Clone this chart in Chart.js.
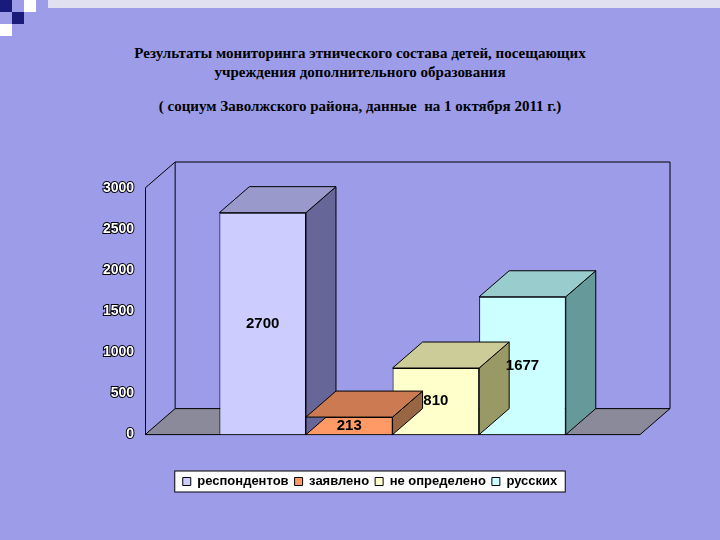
<!DOCTYPE html>
<html><head><meta charset="utf-8">
<script src="https://cdn.jsdelivr.net/npm/chart.js@4.4.0/dist/chart.umd.min.js"></script>
<style>
body{margin:0;width:720px;height:540px;background:#9c9ce9;position:relative;overflow:hidden;font-family:"Liberation Serif",serif}
.t{position:absolute;left:0;width:720px;text-align:center;font-weight:bold;font-size:15px;color:#000}
canvas{position:absolute;left:0;top:0}
.sq{position:absolute;width:12px;height:12px}
</style></head><body>
<div class="sq" style="left:0;top:0;background:#1a1a7a"></div>
<div class="sq" style="left:12px;top:12px;background:#1a1a7a"></div>
<div class="sq" style="left:24px;top:0;background:#fff"></div>
<div class="sq" style="left:0;top:24px;background:#fff"></div>
<div style="position:absolute;left:48px;top:0;width:672px;height:8px;background:#e0e0f0"></div>
<div class="t" style="top:44px;line-height:19px">Результаты мониторинга этнического состава детей, посещающих<br>учреждения дополнительного образования</div>
<div class="t" style="top:98px">( социум Заволжского района, данные &nbsp;на 1 октября 2011 г.)</div>
<canvas id="c" width="720" height="540"></canvas>
<script>
const categories=[""];
const seriesNames=["респондентов","заявлено","не определено","русских"];
const seriesValues=[2700,213,810,1677];
const seriesColors=["#ccccff","#ff9966","#ffffcc","#ccffff"];
const sideColors=["#666699","#996644","#999966","#669999"];
const topColors=["#9999cc","#cc7a52","#cccc99","#99cccc"];
const DX=30,DY=-26;
const threeD={id:"threeD",
 beforeDraw(ch){const L=ch.legend;if(!L||!L.legendHitBoxes.length)return;const h=L.legendHitBoxes;
  const x0=Math.min(...h.map(b=>b.left))-8,x1=Math.max(...h.map(b=>b.left+b.width))+8,y0=h[0].top-4,y1=h[0].top+h[0].height+4;
  const c=ch.ctx;c.save();c.fillStyle="#fff";c.strokeStyle="#000";c.fillRect(x0,y0,x1-x0,y1-y0);c.strokeRect(x0,y0,x1-x0,y1-y0);c.restore();},
 beforeDatasetsDraw(ch){const a=ch.chartArea,c=ch.ctx;c.save();
  c.fillStyle="#8a8a9a";c.strokeStyle="#000";c.lineWidth=1;
  c.beginPath();c.moveTo(a.left,a.bottom);c.lineTo(a.left+DX,a.bottom+DY);c.lineTo(a.right+DX,a.bottom+DY);c.lineTo(a.right,a.bottom);c.closePath();c.fill();c.stroke();
  c.beginPath();c.moveTo(a.left,a.top);c.lineTo(a.left+DX,a.top+DY);c.lineTo(a.left+DX,a.bottom+DY);
  c.moveTo(a.left+DX,a.top+DY);c.lineTo(a.right+DX,a.top+DY);c.lineTo(a.right+DX,a.bottom+DY);c.stroke();c.restore();},
 afterDatasetsDraw(ch){const c=ch.ctx;c.save();c.strokeStyle="#000";c.lineWidth=1;
  ch.data.datasets.forEach((d,i)=>{const b=ch.getDatasetMeta(i).data[0];const l=b.x-b.width/2,r=b.x+b.width/2,t=b.y,bt=b.base;
   c.fillStyle=sideColors[i];c.beginPath();c.moveTo(r,t);c.lineTo(r+DX,t+DY);c.lineTo(r+DX,bt+DY);c.lineTo(r,bt);c.closePath();c.fill();c.stroke();
   c.fillStyle=topColors[i];c.beginPath();c.moveTo(l,t);c.lineTo(l+DX,t+DY);c.lineTo(r+DX,t+DY);c.lineTo(r,t);c.closePath();c.fill();c.stroke();});
  ch.data.datasets.forEach((d,i)=>{const b=ch.getDatasetMeta(i).data[0];
   c.fillStyle="#000";c.font="bold 15px 'Liberation Sans',Arial";c.textAlign="center";c.textBaseline="middle";
   c.fillText(String(d.data[0]),b.x,Math.min((b.y+b.base)/2,b.base-9));});
  c.restore();}};
new Chart(document.getElementById("c"),{type:"bar",
 data:{labels:categories,datasets:seriesNames.map((n,i)=>({label:n,data:[seriesValues[i]],backgroundColor:seriesColors[i],borderColor:"#000",borderWidth:1,barPercentage:1,categoryPercentage:0.7}))},
 options:{responsive:false,animation:false,
  layout:{padding:{left:100,top:188,right:80,bottom:42}},
  plugins:{tooltip:{enabled:false},legend:{position:"bottom",
   title:{display:true,text:" ",padding:6,font:{size:12}},
   labels:{color:"#000",font:{family:"Liberation Sans",size:13,weight:"bold"},boxWidth:8,boxHeight:8,padding:6,useBorderRadius:false}}},
  scales:{x:{grid:{display:false},border:{display:false},ticks:{display:false}},
   y:{min:0,max:3000,ticks:{stepSize:500,format:{useGrouping:false},color:"#fff",textStrokeColor:"#000",textStrokeWidth:2,font:{family:"Liberation Sans",size:14,weight:"bold"}},grid:{display:false},border:{color:"#000"}}}},
 plugins:[threeD]});
</script></body></html>
